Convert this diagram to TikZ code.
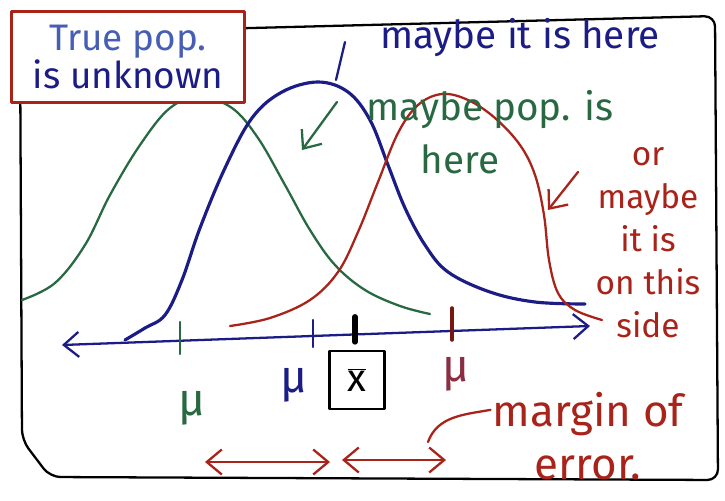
\documentclass[tikz,border=0pt]{standalone}
\usepackage{fontspec}
\setmainfont{Fira Sans}
\usetikzlibrary{arrows.meta,positioning,calc}
\definecolor{sketchBlue}{RGB}{28,28,135}
\definecolor{sketchLightBlue}{RGB}{70,95,180}
\definecolor{sketchGreen}{RGB}{40,105,65}
\definecolor{sketchRed}{RGB}{168,35,25}
\definecolor{sketchMaroon}{RGB}{140,45,65}

\begin{document}
\begin{tikzpicture}[
  x=0.02cm,y=-0.02cm,
  pen/.style={line width=1.3pt,line cap=round,line join=round},
  note/.style={align=center,inner sep=1pt},
  barb/.style={pen,-{Straight Barb[length=3mm,width=5mm]}},
  twobarb/.style={pen,{Straight Barb[length=3mm,width=5mm]}-{Straight Barb[length=3mm,width=5mm]}},
  meanlabel/.style={inner sep=0pt,font=\fontsize{26}{28}\selectfont}
]
  \useasboundingbox (0,0) rectangle (725,501);
  \draw[pen,rounded corners=6pt] (20,34) -- (715,16) -- (718,480) -- (50,477) -- (22,440) -- cycle;

  \draw[pen,sketchGreen] plot[smooth,tension=0.6] coordinates {(22,300) (55,283) (85,245) (110,195) (140,145) (170,108) (200,97) (232,108) (258,138) (285,185) (310,230) (335,265) (365,290) (400,306) (430,314)};
  \draw[pen,sketchBlue,line width=1.8pt] plot[smooth,tension=0.6] coordinates {(125,340) (145,328) (165,315) (182,280) (200,228) (225,168) (252,118) (282,92) (318,82) (348,92) (370,120) (388,165) (405,208) (425,245) (448,272) (490,292) (535,302) (585,304)};
  \draw[pen,sketchRed] plot[smooth,tension=0.6] coordinates {(230,326) (270,318) (310,300) (338,272) (358,232) (378,182) (398,133) (418,105) (442,94) (468,100) (495,118) (520,145) (535,175) (544,215) (549,260) (558,293) (575,310) (602,320)};

  \node[note,draw=sketchRed,fill=white,pen,minimum width=4.66cm,minimum height=1.82cm,text=sketchBlue,
        font=\fontsize{21}{20}\selectfont] (unknown) at (128,57) {{\color{sketchLightBlue}True pop.}\\is unknown};

  \node[note,text=sketchBlue,font=\fontsize{22}{24}\selectfont] (bluenote) at (520,38) {maybe it is here};
  \coordinate (bluetail) at (345,42);
  \coordinate (bluetip) at (336,80);
  \draw[pen,sketchBlue] (bluetail) -- (bluetip);

  \node[note,text=sketchGreen,font=\fontsize{22}{30}\selectfont] (greennote) at (490,132) {maybe pop. is\\here\hspace*{1.2cm}};
  \coordinate (greentail) at (337,102);
  \coordinate (greentip) at (302,150);
  \draw[barb,sketchGreen] (greentail) -- (greentip);

  \node[note,text=sketchRed,font=\fontsize{19}{24.5}\selectfont] (rednote) at (648,243) {or\\maybe\\it is\\on this\\side};
  \coordinate (redtail) at (578,172);
  \coordinate (redtip) at (548,210);
  \draw[barb,sketchRed] (redtail) -- (redtip);

  \coordinate (axisleft) at (62,345);
  \coordinate (axisright) at (590,326);
  \draw[twobarb,sketchBlue] (axisleft) -- (axisright);
  \draw[pen,sketchGreen] (180,322) -- (180,354);
  \draw[pen,sketchBlue] (313,320) -- (313,347);
  \draw[pen,sketchRed!70!black,line width=2pt] (452,308) -- (452,340);

  \node[draw,pen,minimum width=1.1cm,minimum height=1.16cm,font=\fontsize{22}{24}\selectfont] (xbar) at (357,380) {$\overline{\mathrm{x}}$};
  \draw[line width=3.2pt,line cap=round] ($(xbar.north)+(-2,-8)$) -- ++(0,-25);

  \node[meanlabel,text=sketchGreen] (mugreen) at (192,408) {μ};
  \node[meanlabel,text=sketchBlue] (mublue) at (294,385) {μ};
  \node[meanlabel,text=sketchMaroon] (mured) at (456,374) {μ};

  \node[note,text=sketchRed,font=\fontsize{25}{30}\selectfont] (moe) at (588,436) {margin of\\error.};
  \coordinate (moetip) at (428,442);
  \draw[pen,sketchRed] (moe.165) to[out=190,in=70] (moetip);
  \coordinate (leftstart) at (205,462);
  \coordinate (leftend) at (330,462);
  \coordinate (rightstart) at (342,460);
  \coordinate (rightend) at (446,460);
  \draw[twobarb,sketchRed] (leftstart) -- (leftend);
  \draw[twobarb,sketchRed] (rightstart) -- (rightend);
\end{tikzpicture}
\end{document}
